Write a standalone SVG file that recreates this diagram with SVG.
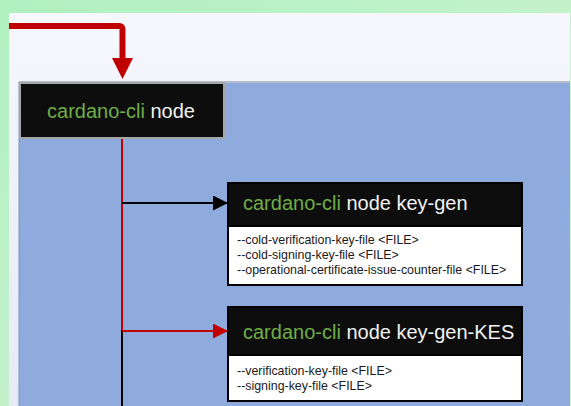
<svg xmlns="http://www.w3.org/2000/svg" width="571" height="406" viewBox="0 0 571 406">
  <defs>
    <linearGradient id="bg" x1="0" y1="0" x2="1" y2="1">
      <stop offset="0" stop-color="#b0f0bf"/>
      <stop offset="1" stop-color="#d6f3d6"/>
    </linearGradient>
    <linearGradient id="panel" x1="0" y1="0" x2="0" y2="1">
      <stop offset="0" stop-color="#f6f7fc"/>
      <stop offset="1" stop-color="#e6eaf4"/>
    </linearGradient>
    <marker id="ahBlack" viewBox="0 0 10 10" refX="10" refY="5" markerWidth="7.5" markerHeight="7.5" markerUnits="strokeWidth" orient="auto">
      <path d="M0,0 L10,5 L0,10 Z" fill="#000"/>
    </marker>
    <marker id="ahRed" viewBox="0 0 10 10" refX="10" refY="5" markerWidth="7.5" markerHeight="7.5" markerUnits="strokeWidth" orient="auto">
      <path d="M0,0 L10,5 L0,10 Z" fill="#c00000"/>
    </marker>
  </defs>
  <style>
    .title { font-family: "Liberation Sans", Arial, sans-serif; font-size: 20px; fill: #f2f2f2; }
    .green { fill: #70ad47; }
    .opt { font-family: "Liberation Sans", Arial, sans-serif; font-size: 12.4px; fill: #1a1a1a; }
    .hdr { fill: #0d0d0d; stroke: #000; stroke-width: 2; }
    .body { fill: #fff; stroke: #000; stroke-width: 2; }
  </style>

  <rect x="0" y="0" width="571" height="406" fill="url(#bg)"/>
  <rect x="9" y="13" width="561" height="393" fill="url(#panel)"/>
  <rect x="19" y="82" width="551" height="324" fill="#8faadc"/>
  <line x1="19" y1="82" x2="570" y2="82" stroke="#b4bccb" stroke-width="2"/>
  <line x1="19" y1="82" x2="19" y2="406" stroke="#7f95bf" stroke-width="1"/>

  <g id="connectors" fill="none">
    <path d="M9,26 H119 Q122.5,26 122.5,30 V60" stroke="#c00000" stroke-width="6"/>
    <polygon points="112,58 133,58 122.5,79" fill="#c00000"/>
    <line x1="122" y1="138" x2="122" y2="332" stroke="#c00000" stroke-width="2"/>
    <line x1="122" y1="330" x2="122" y2="406" stroke="#000" stroke-width="2"/>
    <line x1="122" y1="203" x2="228" y2="203" stroke="#000" stroke-width="2" marker-end="url(#ahBlack)"/>
    <line x1="122" y1="331" x2="228" y2="331" stroke="#c00000" stroke-width="2" marker-end="url(#ahRed)"/>
  </g>

  <g id="node-cardano-cli-node">
    <rect x="20" y="83" width="204" height="55" fill="#0d0d0d" stroke="#a6a6a6" stroke-width="2"/>
    <text class="title" x="121" y="118" text-anchor="middle"><tspan class="green">cardano-cli</tspan> node</text>
  </g>

  <g id="node-key-gen">
    <rect class="hdr" x="228" y="183" width="294" height="43"/>
    <rect class="body" x="228" y="226" width="294" height="59"/>
    <text class="title" x="243" y="210"><tspan class="green">cardano-cli</tspan> node key-gen</text>
    <text class="opt" x="237" y="244">--cold-verification-key-file &lt;FILE&gt;</text>
    <text class="opt" x="237" y="259">--cold-signing-key-file &lt;FILE&gt;</text>
    <text class="opt" x="237" y="274">--operational-certificate-issue-counter-file &lt;FILE&gt;</text>
  </g>

  <g id="node-key-gen-KES">
    <rect class="hdr" x="228" y="307" width="294" height="48"/>
    <rect class="body" x="228" y="355" width="294" height="46"/>
    <text class="title" x="243" y="339"><tspan class="green">cardano-cli</tspan> node key-gen-KES</text>
    <text class="opt" x="237" y="375">--verification-key-file &lt;FILE&gt;</text>
    <text class="opt" x="237" y="390">--signing-key-file &lt;FILE&gt;</text>
  </g>
</svg>
